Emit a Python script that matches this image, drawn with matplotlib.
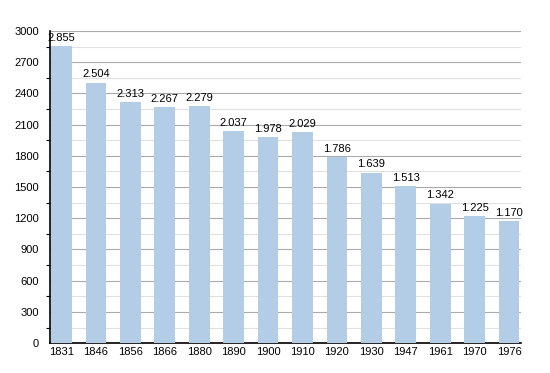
import numpy as np
import matplotlib
matplotlib.use('Agg')
import matplotlib.pyplot as plt
from matplotlib.ticker import MultipleLocator

years = ['1831', '1846', '1856', '1866', '1880', '1890', '1900',
         '1910', '1920', '1930', '1947', '1961', '1970', '1976']
population = [2855, 2504, 2313, 2267, 2279, 2037, 1978,
              2029, 1786, 1639, 1513, 1342, 1225, 1170]
labels = ['2.855', '2.504', '2.313', '2.267', '2.279', '2.037', '1.978',
          '2.029', '1.786', '1.639', '1.513', '1.342', '1.225', '1.170']

plt.rcParams['font.family'] = ['Liberation Sans', 'DejaVu Sans']

fig = plt.figure(figsize=(5.5, 3.73), dpi=100)
ax = fig.add_axes([0.091, 0.080, 0.856, 0.837])

x = np.arange(len(years))
ax.bar(x, population, width=0.6, color='#b3cde6', zorder=3)
for xi, v, t in zip(x, population, labels):
    ax.text(xi, v + 30, t, ha='center', va='bottom', fontsize=8, zorder=4)

ax.set_xlim(-0.33, len(years) - 0.66)
ax.set_ylim(0, 3000)
ax.set_xticks(x)
ax.set_xticklabels(years, fontsize=8)
ax.yaxis.set_major_locator(MultipleLocator(300))
ax.yaxis.set_minor_locator(MultipleLocator(150))
ax.tick_params(axis='y', which='major', labelsize=8, length=0, pad=8)
ax.tick_params(axis='y', which='minor', length=3, width=0.8)
ax.tick_params(axis='x', length=0, pad=3)
ax.grid(axis='y', which='major', color='#aaaaaa', linewidth=0.8, zorder=0)
ax.grid(axis='y', which='minor', color='#e0e0e0', linewidth=0.8, zorder=0)
for s in ['top', 'right']:
    ax.spines[s].set_visible(False)
ax.spines['left'].set_linewidth(1.2)
ax.spines['bottom'].set_linewidth(1.2)

fig.savefig('out.png', dpi=100)
